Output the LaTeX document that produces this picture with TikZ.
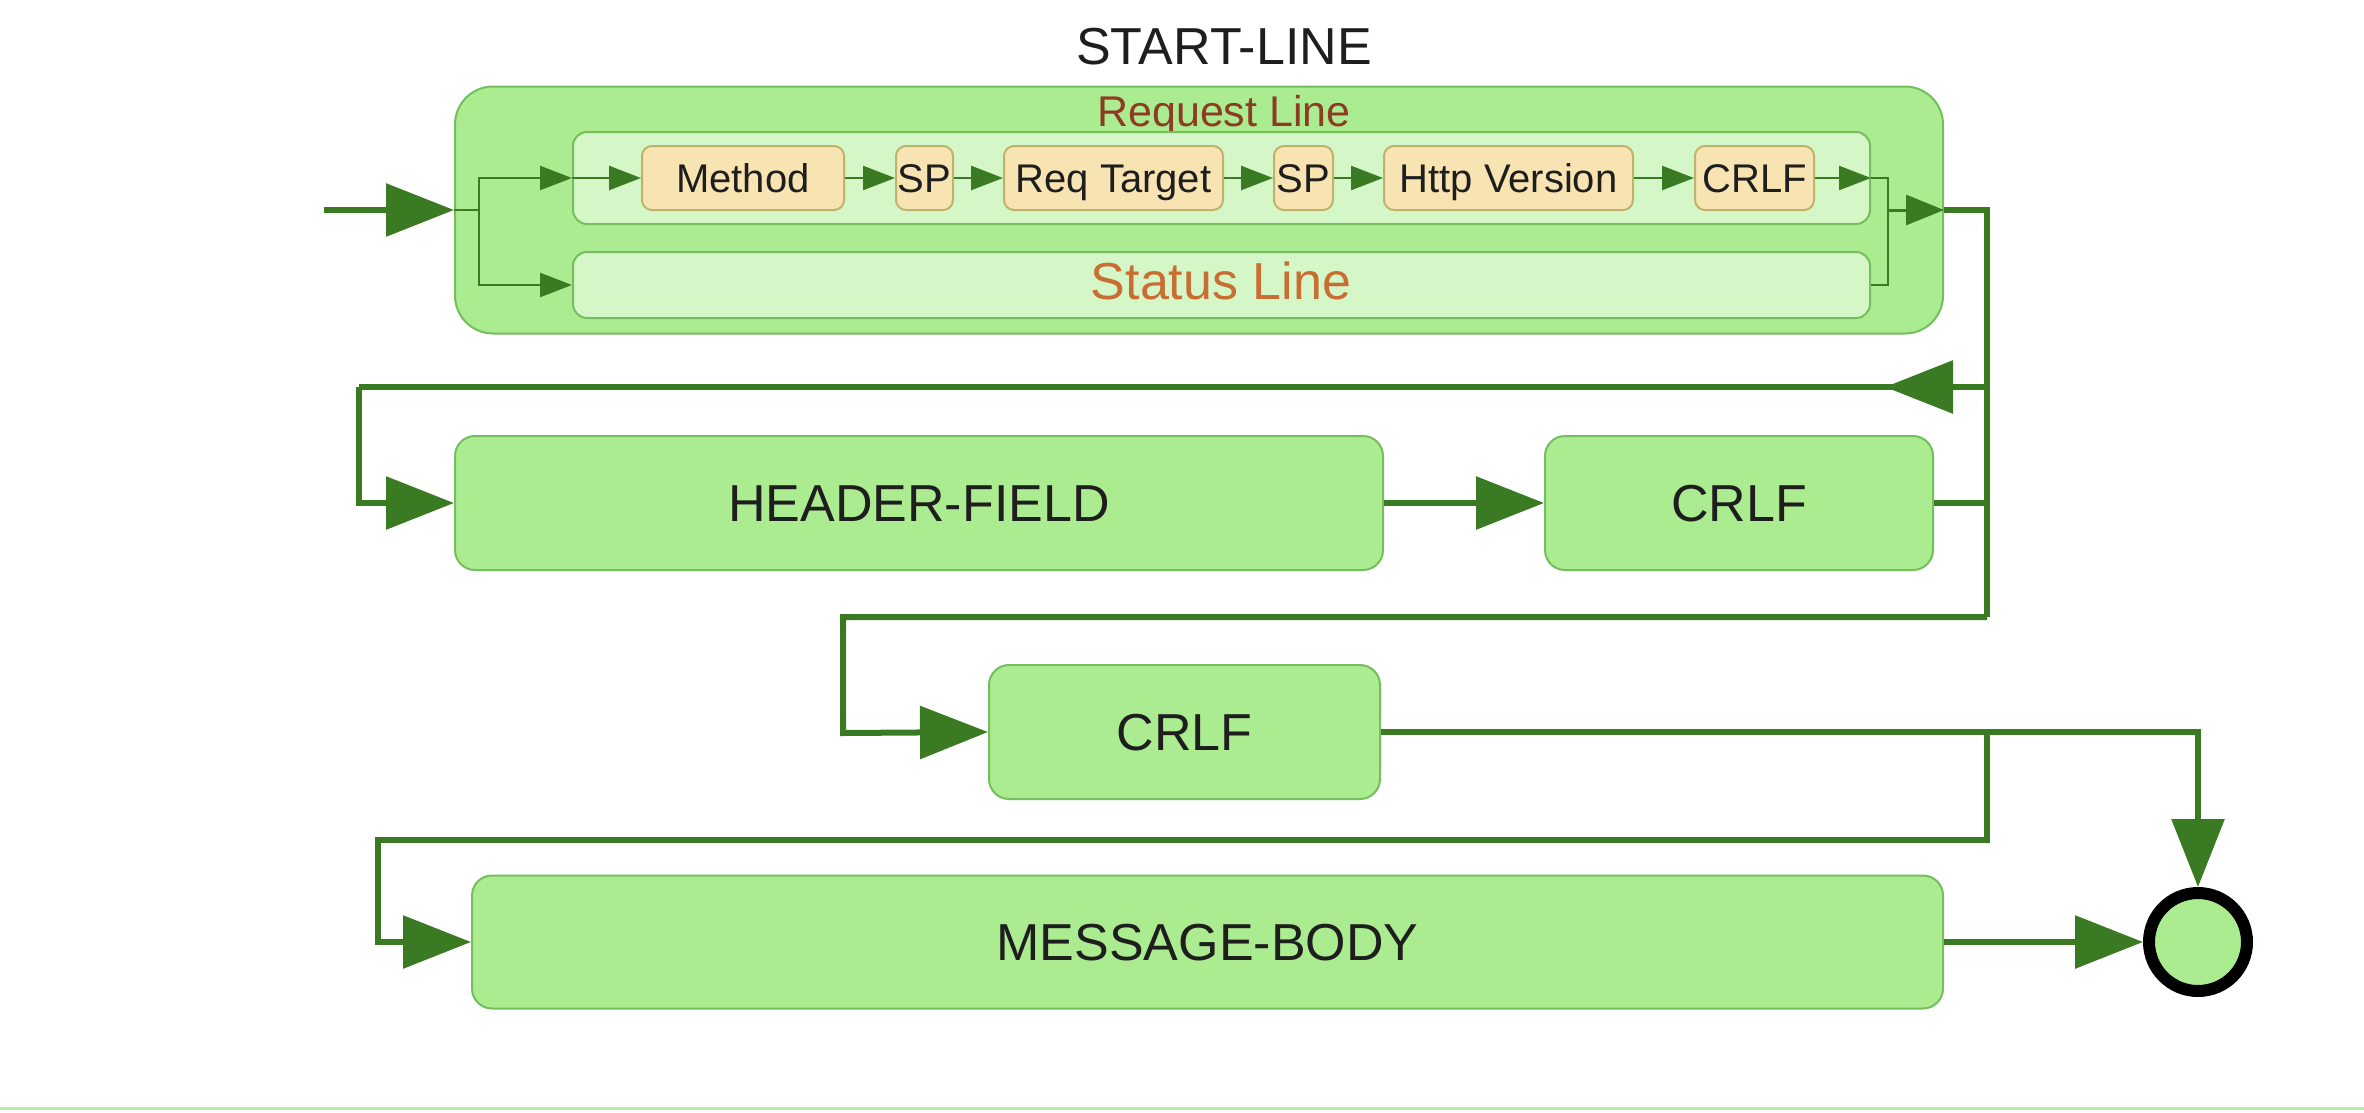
\documentclass[tikz,border=0pt]{standalone}
\usepackage{fontspec}
\setmainfont{Liberation Sans}
\usetikzlibrary{arrows.meta}
\definecolor{ln}{HTML}{3A7A22}
\definecolor{bx}{HTML}{ABEC90}
\definecolor{bxd}{HTML}{74BE5E}
\definecolor{inr}{HTML}{D5F7C8}
\definecolor{yl}{HTML}{F8E4B3}
\definecolor{yld}{HTML}{BDB36A}
\definecolor{reqc}{HTML}{8E3B24}
\definecolor{stc}{HTML}{C96E33}
\definecolor{txt}{HTML}{1E1E1E}
\definecolor{edge}{HTML}{B8EAA4}
\begin{document}
\begin{tikzpicture}[x=1pt,y=-1pt,
  big52/.style={font=\fontsize{52}{60}\selectfont, text height=37.2pt, text depth=0pt},
  box/.style={draw=bxd, line width=2pt, fill=bx, rounded corners=20pt, inner sep=0pt, text=txt, big52},
  outerbox/.style={draw=bxd, line width=2pt, fill=bx, rounded corners=38pt, inner sep=0pt},
  innerbox/.style={draw=bxd, line width=2pt, fill=inr, rounded corners=14pt, inner sep=0pt},
  ybox/.style={draw=yld, line width=2pt, fill=yl, rounded corners=10pt, inner sep=0pt, minimum height=64pt, text=txt, font=\fontsize{40}{48}\selectfont, text height=28.6pt, text depth=0pt},
  big/.style={draw=ln, line width=6pt, -{Triangle[length=68pt,width=52pt]}},
  thickl/.style={draw=ln, line width=6pt},
  med/.style={draw=ln, line width=3pt, -{Triangle[length=38pt,width=30pt]}},
  sm/.style={draw=ln, line width=2.5pt, -{Triangle[length=32pt,width=24pt]}},
  thinl/.style={draw=ln, line width=2.5pt}
]
\useasboundingbox (0,0) rectangle (2364,1112);
\fill[white] (0,0) rectangle (2364,1112);
\draw[edge, line width=3pt] (0,1108) -- (2364,1108);

% START-LINE group
\node[text=txt, big52, inner sep=0pt] (sltitle) at (1224,46) {START-LINE};
\node[outerbox, minimum width=1488pt, minimum height=247pt] (start) at (1199,210) {};
\node[text=reqc, font=\fontsize{43}{50}\selectfont, text height=30.8pt, text depth=0pt, inner sep=0pt] (reqlabel) at (1224,111) {Request Line};
\node[innerbox, minimum width=1297pt, minimum height=92pt] (req) at (1221.5,178) {};
\node[innerbox, minimum width=1297pt, minimum height=66pt] (stat) at (1221.5,285) {};
\node[text=stc, big52, inner sep=0pt] (statlabel) at (1221,281) {Status Line};

\node[ybox, minimum width=202pt] (meth) at (743,178) {Method};
\node[ybox, minimum width=57pt] (sp1) at (924.5,178) {SP};
\node[ybox, minimum width=219pt] (rt) at (1113.5,178) {Req Target};
\node[ybox, minimum width=59pt] (sp2) at (1303.5,178) {SP};
\node[ybox, minimum width=249pt] (hv) at (1508.5,178) {Http Version};
\node[ybox, minimum width=119pt] (cra) at (1754.5,178) {CRLF};

% main boxes
\node[box, minimum width=928pt, minimum height=134pt] (hf) at (919,503) {HEADER-FIELD};
\node[box, minimum width=388pt, minimum height=134pt] (c1) at (1739,503) {CRLF};
\node[box, minimum width=391pt, minimum height=134pt] (c2) at (1184.5,732) {CRLF};
\node[box, minimum width=1471pt, minimum height=133pt] (mb) at (1207.5,942) {MESSAGE-BODY};
\node[circle, draw=black, line width=12pt, fill=bx, minimum size=98pt, inner sep=0pt] (fin) at (2198,942) {};

% coordinates
\coordinate (in) at (324,210);
\coordinate (j1) at (479,210);
\coordinate (j2) at (1888,210);
\coordinate (j4) at (1987,617);
\coordinate (j5) at (843,733);
\coordinate (j6) at (1987,387);
\coordinate (m1) at (1885,387);
\coordinate (j7) at (359,387);
\coordinate (j8) at (1987,733);
\coordinate (j10) at (378,840);

% connectors inside START-LINE
\draw[big] (in) -- (start.west);
\draw[thinl] (start.west) -- (j1);
\draw[sm] (j1) |- (req.west);
\draw[sm] (req.west) -- (meth.west);
\draw[sm] (j1) |- (stat.west);
\draw[sm] (meth) -- (sp1);
\draw[sm] (sp1) -- (rt);
\draw[sm] (rt) -- (sp2);
\draw[sm] (sp2) -- (hv);
\draw[sm] (hv) -- (cra);
\draw[sm] (cra.east) -- (req.east);
\draw[thinl] (req.east) -| (j2) |- (stat.east);
\draw[med] (j2) -- (start.east);

% main flow
\draw[thickl] (start.east) -| (j4);
\draw[big] (j4) -| (j5) -- (c2.west);
\draw[thickl] (j6) -- (j7);
\draw[big] (j7) |- (hf.west);
\draw[big] (j6) -- (m1);
\draw[big] (hf) -- (c1);
\draw[thickl] (c1.east) -- (c1.east -| j4);
\draw[big] (c2.east) -| (fin.north);
\draw[big] (j8) |- (j10) |- (mb.west);
\draw[big] (mb.east) -- (fin.west);
\end{tikzpicture}
\end{document}
